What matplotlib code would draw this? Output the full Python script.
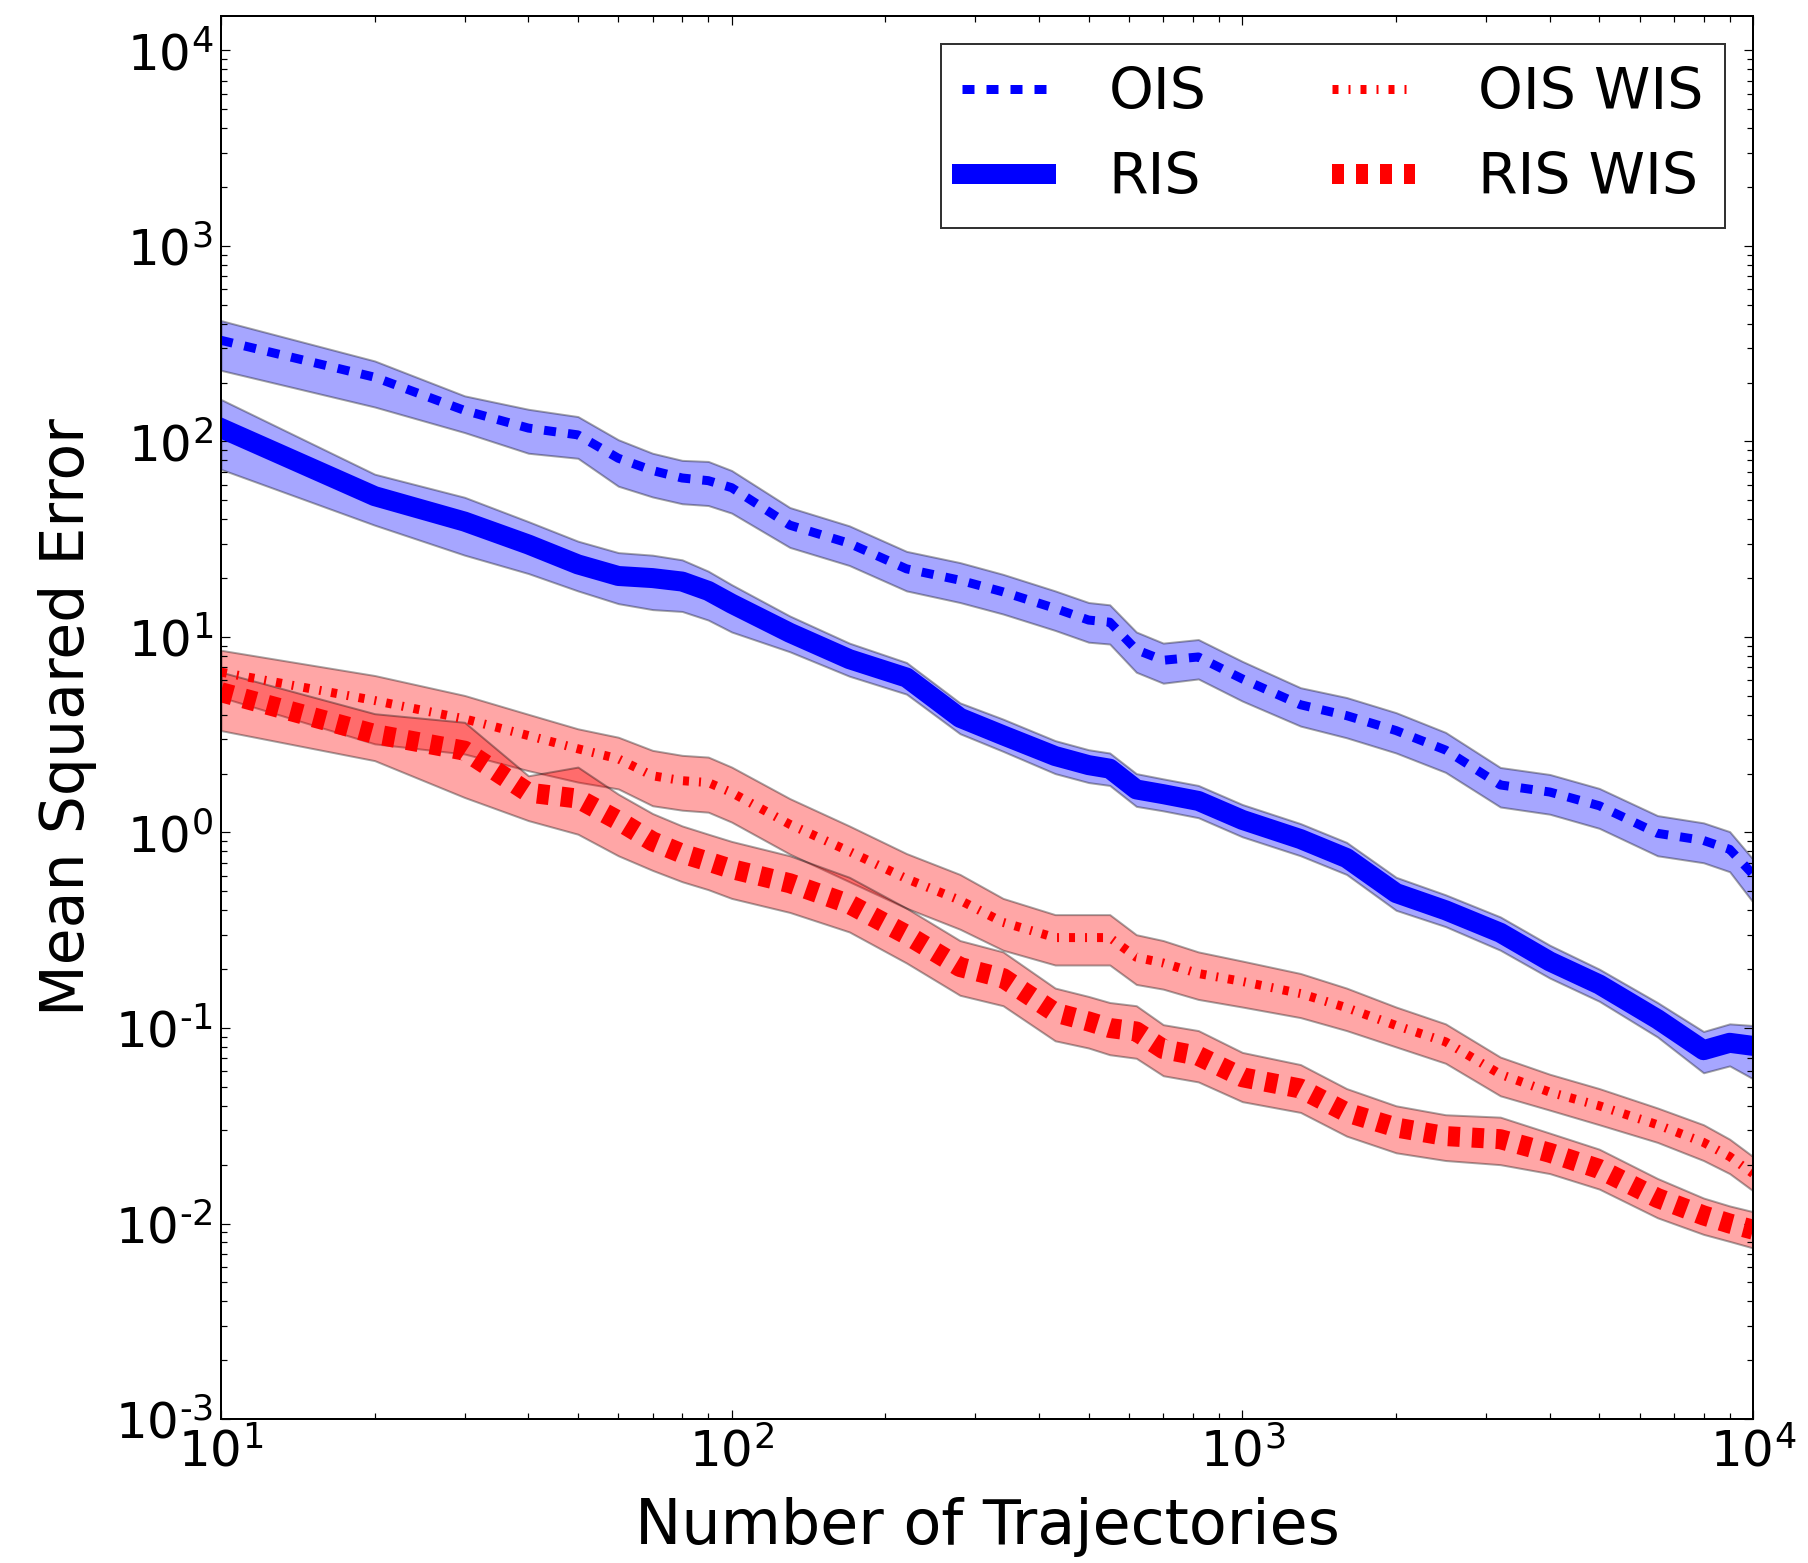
import numpy as np
import matplotlib
matplotlib.use('Agg')
import matplotlib.pyplot as plt
from matplotlib.ticker import FuncFormatter, LogLocator, NullFormatter

# number of trajectories at which the error was recorded
trajectories = [10, 20, 30, 40, 50, 60, 70, 80, 90, 100, 130, 170, 220, 280, 340,
                430, 500, 550, 620, 700, 820, 1000, 1300, 1600, 2000, 2500,
                3200, 4000, 5000, 6500, 8000, 9000, 10000]

# ordinary importance sampling
ois_mse = [329, 213, 144, 117, 108, 82, 71, 65, 63, 58, 37.3, 30.1, 22.3, 19.5, 17.0,
           14.0, 12.2, 11.9, 8.6, 7.6, 7.9, 6.1, 4.5, 3.96, 3.32, 2.64,
           1.75, 1.61, 1.37, 0.99, 0.91, 0.82, 0.61]
ois_high = [415, 258, 171, 146, 134, 102, 87, 80, 79, 71, 45.9, 37.0, 27.4, 24.0, 20.9,
            17.2, 15.0, 14.6, 10.6, 9.3, 9.7, 7.5, 5.5, 4.9, 4.1, 3.25,
            2.15, 1.98, 1.68, 1.22, 1.12, 1.01, 0.73]
ois_low = [231, 150, 111, 87, 82, 59, 52, 48, 47, 43, 28.7, 23.2, 17.2, 15.0, 13.1,
           10.8, 9.4, 9.2, 6.6, 5.8, 6.1, 4.7, 3.5, 3.05, 2.55, 2.03,
           1.35, 1.24, 1.05, 0.76, 0.70, 0.63, 0.44]

# regression importance sampling
ris_mse = [117, 52.5, 38.9, 29.7, 23.5, 20.5, 20.0, 19.2, 17.2, 14.8, 10.5, 7.7, 6.2, 3.86, 3.14,
           2.46, 2.21, 2.12, 1.66, 1.57, 1.45, 1.16, 0.925, 0.74, 0.49, 0.40,
           0.307, 0.219, 0.167, 0.111, 0.077, 0.084, 0.081]
ris_high = [164, 68, 51.8, 38.9, 30.9, 27.0, 26.2, 24.8, 21.7, 18.5, 12.8, 9.3, 7.4, 4.6, 3.8,
            2.95, 2.65, 2.55, 2.0, 1.88, 1.74, 1.39, 1.11, 0.89, 0.59, 0.48,
            0.37, 0.265, 0.20, 0.135, 0.096, 0.105, 0.103]
ris_low = [72, 37.3, 26.2, 21.1, 17.2, 14.8, 13.8, 13.5, 12.2, 10.6, 8.4, 6.3, 5.1, 3.2, 2.6,
           2.0, 1.8, 1.74, 1.36, 1.29, 1.19, 0.95, 0.76, 0.61, 0.40, 0.33,
           0.25, 0.18, 0.137, 0.09, 0.059, 0.064, 0.055]

# weighted variants
ois_wis_mse = [6.61, 4.73, 3.81, 3.13, 2.68, 2.38, 1.95, 1.84, 1.80, 1.60, 1.10, 0.80, 0.58, 0.45, 0.347,
               0.29, 0.29, 0.29, 0.23, 0.215, 0.19, 0.173, 0.15, 0.127, 0.103, 0.085,
               0.058, 0.047, 0.040, 0.032, 0.026, 0.022, 0.018]
ois_wis_high = [8.55, 6.35, 5.02, 4.02, 3.39, 3.07, 2.63, 2.48, 2.43, 2.16, 1.49, 1.08, 0.78, 0.61, 0.46,
                0.38, 0.38, 0.38, 0.30, 0.28, 0.245, 0.22, 0.19, 0.16, 0.128, 0.105,
                0.071, 0.058, 0.049, 0.039, 0.032, 0.027, 0.022]
ois_wis_low = [4.92, 2.84, 2.52, 2.07, 1.81, 1.67, 1.37, 1.30, 1.27, 1.13, 0.775, 0.56, 0.41, 0.32, 0.25,
               0.21, 0.21, 0.21, 0.167, 0.158, 0.14, 0.128, 0.113, 0.097, 0.080, 0.066,
               0.045, 0.038, 0.032, 0.026, 0.021, 0.018, 0.0147]

ris_wis_mse = [5.22, 3.19, 2.62, 1.60, 1.49, 1.15, 0.90, 0.78, 0.71, 0.65, 0.55, 0.43, 0.30, 0.205, 0.18,
               0.12, 0.108, 0.10, 0.096, 0.078, 0.072, 0.056, 0.049, 0.037, 0.031, 0.028,
               0.027, 0.023, 0.019, 0.0135, 0.011, 0.0100, 0.0093]
ris_wis_high = [6.61, 4.05, 3.66, 1.95, 2.16, 1.57, 1.25, 1.08, 0.98, 0.90, 0.76, 0.59, 0.41, 0.28, 0.245,
                0.16, 0.145, 0.135, 0.13, 0.104, 0.097, 0.075, 0.065, 0.049, 0.040, 0.036,
                0.035, 0.029, 0.024, 0.017, 0.0135, 0.0123, 0.0115]
ris_wis_low = [3.32, 2.33, 1.51, 1.15, 0.98, 0.76, 0.64, 0.56, 0.51, 0.46, 0.39, 0.31, 0.215, 0.147, 0.13,
               0.086, 0.079, 0.073, 0.07, 0.057, 0.053, 0.042, 0.037, 0.028, 0.023, 0.021,
               0.020, 0.018, 0.015, 0.0107, 0.0088, 0.0081, 0.0075]

plt.rcParams['font.family'] = 'DejaVu Sans'
plt.rcParams['mathtext.fontset'] = 'dejavusans'
plt.rcParams['lines.scale_dashes'] = False

# (label, mean, low, high, colour, linewidth, dash pattern)
series = [
    ('OIS', ois_mse, ois_low, ois_high, 'blue', 4.5, (6, 6)),
    ('RIS', ris_mse, ris_low, ris_high, 'blue', 10, None),
    ('OIS WIS', ois_wis_mse, ois_wis_low, ois_wis_high, 'red', 4.5, (3, 5, 1, 5)),
    ('RIS WIS', ris_wis_mse, ris_wis_low, ris_wis_high, 'red', 10, (6, 6)),
]

fig = plt.figure(figsize=(1808 / 144, 1563 / 144), dpi=144)
ax = fig.add_axes([0.1222, 0.0921, 0.9696 - 0.1222, 0.9898 - 0.0921])

for label, mse, low, high, color, lw, dashes in series:
    ax.fill_between(trajectories, low, high, facecolor=color, edgecolor='black',
                    linewidth=1.0, alpha=0.35, zorder=1)

for label, mse, low, high, color, lw, dashes in series:
    if dashes is None:
        ax.plot(trajectories, mse, color=color, linewidth=lw, label=label,
                solid_capstyle='projecting', zorder=2)
    else:
        ax.plot(trajectories, mse, color=color, linewidth=lw, label=label,
                dashes=dashes, dash_capstyle='butt', zorder=2)

ax.set_xscale('log')
ax.set_yscale('log')
ax.set_xlim(10, 1e4)
ax.set_ylim(1e-3, 1.5e4)


def pow10_label(v, pos):
    k = int(round(np.log10(v)))
    if k < 0:
        return r'$\mathdefault{10^{\text{-}%d}}$' % -k
    return r'$\mathdefault{10^{%d}}$' % k


for axis in (ax.xaxis, ax.yaxis):
    axis.set_major_locator(LogLocator(base=10))
    axis.set_minor_locator(LogLocator(base=10, subs=np.arange(2, 10)))
    axis.set_major_formatter(FuncFormatter(pow10_label))
    axis.set_minor_formatter(NullFormatter())

ax.tick_params(which='both', direction='in', top=True, right=True, width=0.6)
ax.tick_params(which='major', length=4.5, pad=4, labelsize=25)
ax.tick_params(which='minor', length=3)
for sp in ax.spines.values():
    sp.set_linewidth(1.0)

ax.set_xlabel('Number of Trajectories', fontsize=31, labelpad=10)
ax.set_ylabel('Mean Squared Error', fontsize=30, labelpad=9)

leg = ax.legend(loc='upper right', ncol=2, fontsize=28.5, frameon=True, fancybox=False,
                handlelength=1.46, handletextpad=1.1, columnspacing=2.2,
                labelspacing=0.53, borderpad=0.38, borderaxespad=0.5)
leg.get_frame().set_edgecolor('black')
leg.get_frame().set_linewidth(1.0)

fig.savefig('out.png', dpi=144)
